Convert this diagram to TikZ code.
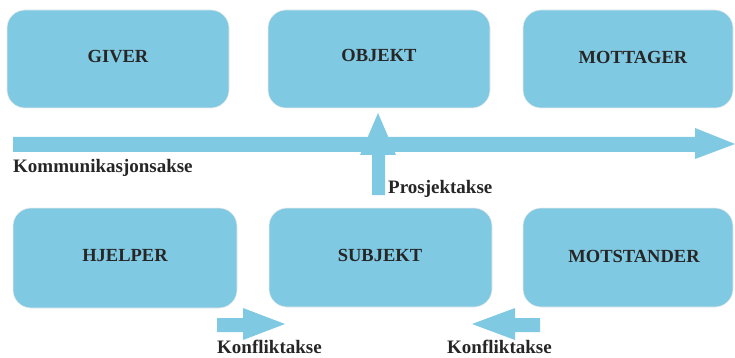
\documentclass[tikz,border=0pt]{standalone}
\usepackage{fontspec}
\setmainfont{Liberation Serif}
\definecolor{boxblue}{RGB}{128,201,227}
\begin{document}
\begin{tikzpicture}[x=1pt,y=-1pt,
  actant/.style={fill=boxblue,draw=white!92!black,line width=0.6pt,rounded corners=18pt},
  boxtext/.style={font=\fontsize{18.5}{22}\selectfont\bfseries,text=black!85},
  axislabel/.style={font=\fontsize{19}{22}\selectfont\bfseries,text=black!85,anchor=base west,inner sep=0pt},
  blockarrow/.style={fill=boxblue,draw=none}]
\useasboundingbox (0,0) rectangle (735,358);
% boxes
\draw[actant] (7,10) rectangle (229,108);
\node[boxtext] (giver) at (118,57) {GIVER};
\draw[actant] (268,10) rectangle (490,108);
\node[boxtext] (objekt) at (379,55) {OBJEKT};
\draw[actant] (523,10) rectangle (733,108);
\node[boxtext] (mottager) at (633,57) {MOTTAGER};
\draw[actant] (13,208) rectangle (237,308);
\node[boxtext] (hjelper) at (125,256) {HJELPER};
\draw[actant] (269,208) rectangle (492,307);
\node[boxtext] (subjekt) at (380,255) {SUBJEKT};
\draw[actant] (523,208) rectangle (733,307);
\node[boxtext] (motstander) at (634,256) {MOTSTANDER};
% communication axis
\fill[blockarrow] (13,137) -- (695,137) -- (695,128) -- (735,144) -- (695,159) -- (695,152) -- (13,152) -- cycle;
\node[axislabel] (komm) at (13,172) {Kommunikasjonsakse};
% project axis
\fill[blockarrow] (372,195) -- (372,155) -- (360,155) -- (378,113) -- (396,155) -- (385,155) -- (385,195) -- cycle;
\node[axislabel] (prosj) at (388,193) {Prosjektakse};
% conflict axes
\fill[blockarrow] (217,318) -- (243,318) -- (243,308) -- (285,324) -- (243,340) -- (243,332) -- (217,332) -- cycle;
\node[axislabel] (konf1) at (217,353) {Konfliktakse};
\fill[blockarrow] (540,318) -- (515,318) -- (515,308) -- (472,324) -- (515,340) -- (515,332) -- (540,332) -- cycle;
\node[axislabel] (konf2) at (447,353) {Konfliktakse};
\end{tikzpicture}
\end{document}
